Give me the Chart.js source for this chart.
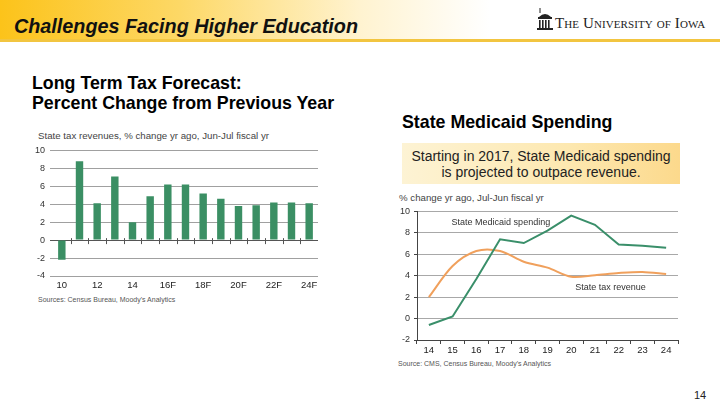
<!DOCTYPE html>
<html>
<head>
<meta charset="utf-8">
<script src="https://cdn.jsdelivr.net/npm/chart.js@4/dist/chart.umd.min.js"></script>
<style>
  body { margin: 0; width: 720px; height: 405px; position: relative; background: #fff; font-family: "Liberation Sans", Arial, sans-serif; overflow: hidden; }
  .abs { position: absolute; white-space: nowrap; }
  #header { left: 0; top: 0; width: 720px; height: 39px; background: linear-gradient(to right, #fcc31a 0%, #fdd866 25%, #fff3d0 50%, #ffffff 68%); }
  #rule { left: 0; top: 39px; width: 720px; height: 3px; background: #f2c540; }
  #title { left: 14px; top: 15px; font-size: 19.8px; font-weight: bold; font-style: italic; color: #111; }
  #logo { left: 555px; top: 15px; font-family: "Liberation Serif", serif; font-size: 15px; font-variant: small-caps; color: #222; letter-spacing: 0.1px; }
  .head2 { font-size: 17.8px; font-weight: bold; color: #000; }
  #note { left: 402px; top: 143px; width: 278px; height: 41px; background: linear-gradient(to right, #fdf3d4 0%, #fde8b0 60%, #fcd98c 100%); text-align: center; font-size: 14px; line-height: 16px; color: #222; padding-top: 5px; box-sizing: border-box; }
  .small { font-size: 9.7px; color: #444; }
  .src { font-size: 7px; color: #555; }
  #page { left: 694px; top: 389px; font-size: 11px; color: #222; }
  canvas { position: absolute; }
</style>
</head>
<body>
<div id="header" class="abs"></div>
<div id="rule" class="abs"></div>
<div id="title" class="abs">Challenges Facing Higher Education</div>
<svg class="abs" style="left:537px;top:8px" width="16" height="24" viewBox="0 0 16 24">
  <line x1="3" y1="0" x2="3" y2="5" stroke="#222" stroke-width="1"/>
  <path d="M2 9 Q8 3 14 9 Z" fill="#222"/>
  <rect x="1" y="9" width="14" height="2" fill="#222"/>
  <rect x="2" y="12" width="1.6" height="8" fill="#222"/>
  <rect x="5" y="12" width="1.6" height="8" fill="#222"/>
  <rect x="8" y="12" width="1.6" height="8" fill="#222"/>
  <rect x="11" y="12" width="1.6" height="8" fill="#222"/>
  <rect x="0" y="20" width="16" height="2" fill="#222"/>
</svg>
<div id="logo" class="abs">The University of Iowa</div>

<div class="abs head2" style="left:32px;top:73px">Long Term Tax Forecast:</div>
<div class="abs head2" style="left:32px;top:93px">Percent Change from Previous Year</div>
<div class="abs head2" style="left:402px;top:112px">State Medicaid Spending</div>
<div id="note" class="abs">Starting in 2017, State Medicaid spending<br>is projected to outpace revenue.</div>

<div class="abs small" style="left:38px;top:130px">State tax revenues, % change yr ago, Jun-Jul fiscal yr</div>
<div class="abs src" style="left:38px;top:296px">Sources: Census Bureau, Moody's Analytics</div>
<div class="abs small" style="left:399px;top:192px">% change yr ago, Jul-Jun fiscal yr</div>
<div class="abs src" style="left:398px;top:360px">Source: CMS, Census Bureau, Moody's Analytics</div>
<div id="page" class="abs">14</div>

<canvas id="taxChart" style="left:30px;top:140px;width:292px;height:155px"></canvas>
<canvas id="medChart" style="left:395px;top:202px;width:289px;height:155px"></canvas>

<script>
// left chart: state tax revenues
const taxYears = ['10', '11', '12', '13', '14', '15', '16F', '17F', '18F', '19F', '20F', '21F', '22F', '23F', '24F'];
const taxChange = [-2.2, 8.8, 4.1, 7.1, 2.0, 4.9, 6.2, 6.2, 5.2, 4.6, 3.8, 3.9, 4.2, 4.2, 4.1];

// right chart: medicaid vs tax revenue
const medYears = ['14', '15', '16', '17', '18', '19', '20', '21', '22', '23', '24'];
const medicaidSpending = [-0.6, 0.2, 3.7, 7.4, 7.05, 8.2, 9.6, 8.75, 6.9, 6.8, 6.6];
const taxRevenue = [2.0, 4.9, 6.3, 6.3, 5.3, 4.75, 3.9, 4.05, 4.25, 4.35, 4.15];

const tickFont = { family: '"Liberation Sans", Arial, sans-serif', size: 9 };

// small tick marks crossing the zero line between bars
const zeroTicks = {
    id: 'zeroTicks',
    afterDatasetsDraw(chart) {
        const { ctx, scales: { x, y } } = chart;
        const y0 = y.getPixelForValue(0);
        ctx.save();
        ctx.strokeStyle = '#555';
        ctx.lineWidth = 1;
        for (let i = 0; i < taxYears.length - 1; i++) {
            const px = Math.round((x.getPixelForValue(i) + x.getPixelForValue(i + 1)) / 2) + 0.5;
            ctx.beginPath();
            ctx.moveTo(px, y0 - 2);
            ctx.lineTo(px, y0 + 4);
            ctx.stroke();
        }
        ctx.restore();
    }
};

new Chart(document.getElementById('taxChart'), {
    type: 'bar',
    data: {
        labels: taxYears,
        datasets: [{
            data: taxChange,
            backgroundColor: '#3b8f64',
            barPercentage: 0.42,
            categoryPercentage: 1,
        }],
    },
    options: {
        responsive: false,
        animation: false,
        layout: { padding: { top: 0, right: 4 } },
        plugins: { legend: { display: false }, tooltip: { enabled: false } },
        scales: {
            x: {
                grid: { display: false, drawTicks: false },
                border: { display: false },
                ticks: {
                    autoSkip: false,
                    maxRotation: 0,
                    padding: 4,
                    color: '#222',
                    font: { ...tickFont, size: 9.5 },
                    callback: (v, i) => (i % 2 === 0 ? taxYears[i] : ''),
                },
                afterFit: s => { s.height = 19; },
            },
            y: {
                min: -4,
                max: 10,
                ticks: { stepSize: 2, color: '#333', font: tickFont, padding: 5 },
                grid: {
                    color: ctx => (ctx.tick.value === 0 ? '#555' : '#a0a0a0'),
                    tickLength: 3,
                },
                border: { display: false },
                afterFit: s => { s.width = 23; },
            },
        },
    },
    plugins: [zeroTicks],
});

// text labels on the lines
const lineLabels = {
    id: 'lineLabels',
    afterDatasetsDraw(chart) {
        const { ctx, scales: { x, y } } = chart;
        ctx.save();
        ctx.fillStyle = '#333';
        ctx.font = '9px "Liberation Sans", Arial, sans-serif';
        ctx.textBaseline = 'middle';
        ctx.fillText('State Medicaid spending', x.getPixelForValue(1) - 1, y.getPixelForValue(9));
        ctx.fillText('State tax revenue', x.getPixelForValue(6) + 4, y.getPixelForValue(2.9));
        ctx.restore();
    }
};

new Chart(document.getElementById('medChart'), {
    type: 'line',
    data: {
        labels: medYears,
        datasets: [
            {
                label: 'State Medicaid spending',
                data: medicaidSpending,
                borderColor: '#3a8f6a',
                borderWidth: 2,
                pointRadius: 0,
                tension: 0,
            },
            {
                label: 'State tax revenue',
                data: taxRevenue,
                borderColor: '#f0a05c',
                borderWidth: 2,
                pointRadius: 0,
                tension: 0.3,
            },
        ],
    },
    options: {
        responsive: false,
        animation: false,
        layout: { padding: { top: 1, right: 6 } },
        plugins: { legend: { display: false }, tooltip: { enabled: false } },
        scales: {
            x: {
                offset: true,
                grid: { offset: true, drawOnChartArea: false, drawTicks: true, tickLength: 4, color: '#444' },
                border: { display: true, color: '#444' },
                ticks: { color: '#222', font: { ...tickFont, size: 9.5 }, padding: 1, maxRotation: 0, autoSkip: false },
                afterFit: s => { s.height = 17; },
            },
            y: {
                min: -2,
                max: 10,
                ticks: { stepSize: 2, color: '#333', font: tickFont, padding: 4 },
                grid: { color: '#a8a8a8', tickLength: 3, tickColor: '#444' },
                border: { display: true, color: '#444' },
                afterFit: s => { s.width = 22; },
            },
        },
    },
    plugins: [lineLabels],
});
</script>
</body>
</html>
